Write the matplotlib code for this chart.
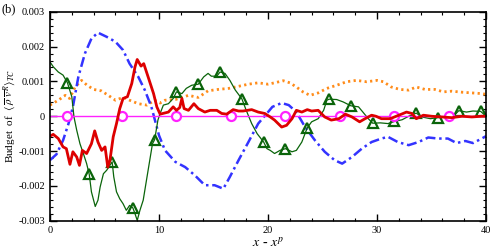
import matplotlib
matplotlib.use("Agg")
import matplotlib.pyplot as plt
import numpy as np
from matplotlib.ticker import MultipleLocator, FuncFormatter

plt.rcParams["font.family"] = ["Liberation Serif", "DejaVu Serif"]
plt.rcParams["mathtext.fontset"] = "stix"
plt.rcParams["axes.unicode_minus"] = False

# blue dash-dot
blue_x = [0, 0.6, 1.2, 1.7, 2.1, 2.6, 3.2, 3.8, 4.4, 5.2, 6.0, 6.7, 7.3, 8.1, 8.7, 9.3,
          10.0, 10.55, 11.5, 12.4, 13.3, 14.2, 15.1, 15.9, 16.5, 17.3, 18.2, 19.1, 20.0,
          20.4, 21.25, 21.9, 22.6, 23.4, 24.3, 25.2, 26.1, 26.8, 27.7, 28.6, 29.5, 30.4,
          31.0, 31.9, 32.9, 33.8, 34.7, 35.6, 36.5, 37.3, 38.1, 38.8, 39.6, 40.0]
blue_y = [-1.26, -1.09, -0.69, -0.21, 0.27, 1.13, 1.80, 2.23, 2.40, 2.28, 2.14, 1.90, 1.51,
          1.13, 0.75, 0.27, -0.55, -0.98, -1.31, -1.46, -1.70, -1.98, -1.98, -2.08, -1.74,
          -1.26, -0.74, -0.21, 0.12, 0.27, 0.38, 0.32, 0.12, -0.31, -0.69, -1.02, -1.26,
          -1.36, -1.17, -0.93, -0.74, -0.64, -0.59, -0.74, -0.83, -0.74, -0.61, -0.64,
          -0.64, -0.77, -0.71, -0.77, -0.64, -0.57]

# orange dotted
orange_x = [0, 0.76, 1.4, 1.8, 2.3, 2.9, 3.4, 4.0, 4.7, 5.35, 6.0, 6.7, 7.3, 8.1, 8.9, 9.6,
            10.1, 10.55, 11.5, 12.1, 12.7, 13.6, 14.5, 15.4, 16.4, 17.3, 18.2, 19.1, 20.0,
            20.6, 21.4, 22.0, 22.6, 23.2, 23.85, 24.6, 25.4, 26.3, 27.2, 28.1, 29.05, 30.0,
            30.6, 31.3, 32.1, 32.9, 33.6, 34.4, 35.3, 36.1, 36.85, 37.8, 38.7, 39.6, 40.0]
orange_y = [0.32, 0.46, 0.60, 0.51, 0.84, 1.03, 0.89, 0.77, 0.73, 0.60, 0.46, 0.54, 0.46,
            0.36, 0.32, 0.46, 0.38, 0.46, 0.48, 0.54, 0.60, 0.54, 0.73, 0.77, 0.80, 0.86,
            0.92, 0.96, 0.92, 0.96, 1.02, 0.96, 0.84, 0.70, 0.60, 0.67, 0.80, 0.89, 0.99,
            1.03, 0.99, 1.03, 0.99, 0.84, 0.77, 0.75, 0.84, 0.77, 0.77, 0.70, 0.72, 0.69,
            0.67, 0.65, 0.63]

# red thick
red_x = [0, 0.3, 0.76, 1.2, 1.5, 1.83, 2.1, 2.45, 2.7, 2.97, 3.36, 3.8, 4.1, 4.4, 4.74,
         5.05, 5.3, 5.5, 5.8, 6.1, 6.4, 6.7, 7.1, 7.5, 7.8, 8.0, 8.35, 8.6, 9.0, 9.5, 9.8,
         10.1, 10.86, 11.3, 11.6, 11.9, 12.1, 12.3, 12.7, 13.2, 13.6, 14.2, 14.7, 15.3,
         15.75, 16.2, 16.8, 17.3, 17.7, 18.5, 19.1, 19.7, 20.2, 20.6, 21.25, 21.7, 22.2,
         22.6, 23.1, 23.6, 24.0, 24.6, 25.2, 25.8, 26.5, 27.1, 27.7, 28.4, 28.9, 29.5,
         29.9, 30.4, 31.2, 32.0, 32.7, 33.2, 33.6, 34.25, 35.0, 35.9, 36.85, 37.8, 38.7,
         39.6, 40.0]
red_y = [-0.57, -0.52, -0.64, -0.88, -0.93, -1.38, -1.02, -1.17, -1.41, -0.98, -1.07,
         -0.79, -0.42, -0.74, -0.98, -0.88, -1.46, -1.26, -0.59, -0.21, 0.22, 0.51, 0.56,
         0.94, 1.42, 1.63, 1.44, 1.51, 1.13, 0.65, 0.27, 0.06, 0.12, 0.27, 0.17, 0.25,
         0.51, 0.22, 0.17, 0.36, 0.22, 0.12, 0.17, 0.17, 0.08, 0.06, 0.19, 0.15, 0.15,
         0.19, 0.12, 0.08, -0.02, -0.11, -0.31, -0.26, -0.07, 0.17, 0.12, 0.19, 0.15, 0.17,
         -0.02, -0.11, -0.07, 0.06, -0.02, -0.16, -0.07, 0.03, 0.0, -0.07, -0.07, 0.03,
         0.12, 0.08, -0.07, 0.03, 0.0, -0.02, -0.04, 0.0, -0.02, 0.0, 0.0]

# green thin
green_x = [0, 0.3, 0.76, 1.2, 1.6, 2.0, 2.2, 2.45, 2.75, 3.06, 3.36, 3.6, 3.8, 4.15, 4.4,
           4.6, 4.9, 5.2, 5.7, 5.85, 6.1, 6.4, 6.7, 7.0, 7.3, 7.6, 7.8, 8.0, 8.25, 8.55,
           8.9, 9.2, 9.4, 9.6, 9.9, 10.1, 10.4, 10.86, 11.3, 11.6, 12.1, 12.5, 13.0, 13.6,
           14.1, 14.5, 14.8, 15.3, 15.6, 16.05, 16.5, 17.0, 17.6, 18.0, 18.5, 19.0, 19.6,
           19.9, 20.2, 20.6, 21.1, 21.6, 22.2, 22.6, 23.1, 23.6, 24.0, 24.6, 25.1, 25.4,
           25.6, 26.3, 26.9, 27.6, 28.3, 28.7, 29.2, 29.6, 30.3, 31.0, 31.6, 32.3, 32.9,
           33.6, 34.1, 34.9, 35.6, 36.2, 37.0, 37.5, 38.2, 38.8, 39.5, 40.0]
green_y = [1.56, 1.42, 1.27, 1.18, 0.96, 0.56, -0.02, -0.40, -0.79, -1.07, -1.36, -1.67,
           -2.17, -2.59, -2.41, -2.03, -1.65, -1.55, -1.31, -1.74, -2.17, -2.37, -2.51,
           -2.70, -2.56, -2.63, -2.80, -2.99, -2.70, -2.41, -1.74, -1.17, -0.79, -0.67,
           -0.11, 0.08, 0.32, 0.36, 0.51, 0.70, 0.65, 0.80, 0.89, 0.92, 1.13, 1.23, 1.15,
           1.15, 1.27, 1.23, 1.03, 0.75, 0.50, 0.17, -0.21, -0.50, -0.74, -0.93, -0.98,
           -1.07, -0.98, -0.93, -1.02, -0.98, -0.74, -0.33, -0.16, -0.07, 0.17, 0.46,
           0.49, 0.48, 0.41, 0.30, 0.27, 0.12, -0.07, -0.20, -0.19, -0.21, -0.15, -0.10,
           0.0, 0.09, -0.02, -0.07, -0.04, -0.02, 0.0, 0.16, 0.12, 0.15, 0.14, 0.0]
green_mx = [1.6, 3.6, 5.7, 7.6, 9.6, 11.6, 13.6, 15.6, 17.6, 19.6, 21.6, 23.6, 25.6, 27.6,
            29.6, 31.6, 33.6, 35.6, 37.5, 39.5]
green_my = [0.96, -1.67, -1.31, -2.63, -0.67, 0.70, 0.92, 1.27, 0.50, -0.74, -0.93, -0.33,
            0.49, 0.30, -0.20, -0.15, 0.09, -0.04, 0.16, 0.14]

# magenta (flat near zero)
mag_x = [0, 40]
mag_y = [0.0, 0.0]
mag_mx = [1.6, 6.6, 11.6, 16.6, 21.6, 26.6, 31.6, 36.6]
mag_my = [0.0, 0.0, 0.0, 0.0, 0.0, 0.0, 0.0, 0.0]

s = 1e-3
fig = plt.figure(figsize=(4.97, 2.5), dpi=100)
ax = fig.add_axes([0.1006, 0.117, 0.8774, 0.836])

ax.plot(orange_x, np.array(orange_y) * s, color="#ff8c1a", lw=2.0, dashes=(0.8, 1.2))
ax.plot(blue_x, np.array(blue_y) * s, color="#3333ff", lw=1.8, dashes=(4, 1.5, 1, 1.5))
ax.plot(green_x, np.array(green_y) * s, color="#0a640a", lw=0.9)
ax.plot(green_mx, np.array(green_my) * s, ls="none", marker="^", ms=7, mfc="none",
        mec="#0a640a", mew=1.6)
ax.plot(mag_x, np.array(mag_y) * s, color="#ff22ff", lw=1.0)
ax.plot(mag_mx, np.array(mag_my) * s, ls="none", marker="o", ms=6.5, mfc="white",
        mec="#ff22ff", mew=1.6)
ax.plot(red_x, np.array(red_y) * s, color="#dd0000", lw=2.0)

ax.set_xlim(0, 40)
ax.set_ylim(-0.003, 0.003)
ax.xaxis.set_major_locator(MultipleLocator(10))
ax.xaxis.set_minor_locator(MultipleLocator(2))
ax.yaxis.set_major_locator(MultipleLocator(0.001))
ax.yaxis.set_minor_locator(MultipleLocator(0.0002))
ax.yaxis.set_major_formatter(FuncFormatter(lambda v, p: f"{round(v, 6):g}"))
ax.tick_params(which="both", direction="in", top=True, right=True, labelsize=7.5)
ax.tick_params(which="major", length=5, width=1)
ax.tick_params(which="minor", length=2.5, width=0.8)
for sp in ax.spines.values():
    sp.set_linewidth(1.2)

ax.set_xlabel("$x$ - $x^p$", fontsize=10, labelpad=1)
ax.set_ylabel(r"Budget  of  $\langle\,\overline{\rho}\ \overline{v}^{\,R}\rangle_{TC}$",
              fontsize=8)
ax.yaxis.set_label_coords(-0.074, 0.5)
fig.text(0.004, 0.985, "(b)", fontsize=9, va="top", ha="left")

fig.savefig("out.png", dpi=100)
